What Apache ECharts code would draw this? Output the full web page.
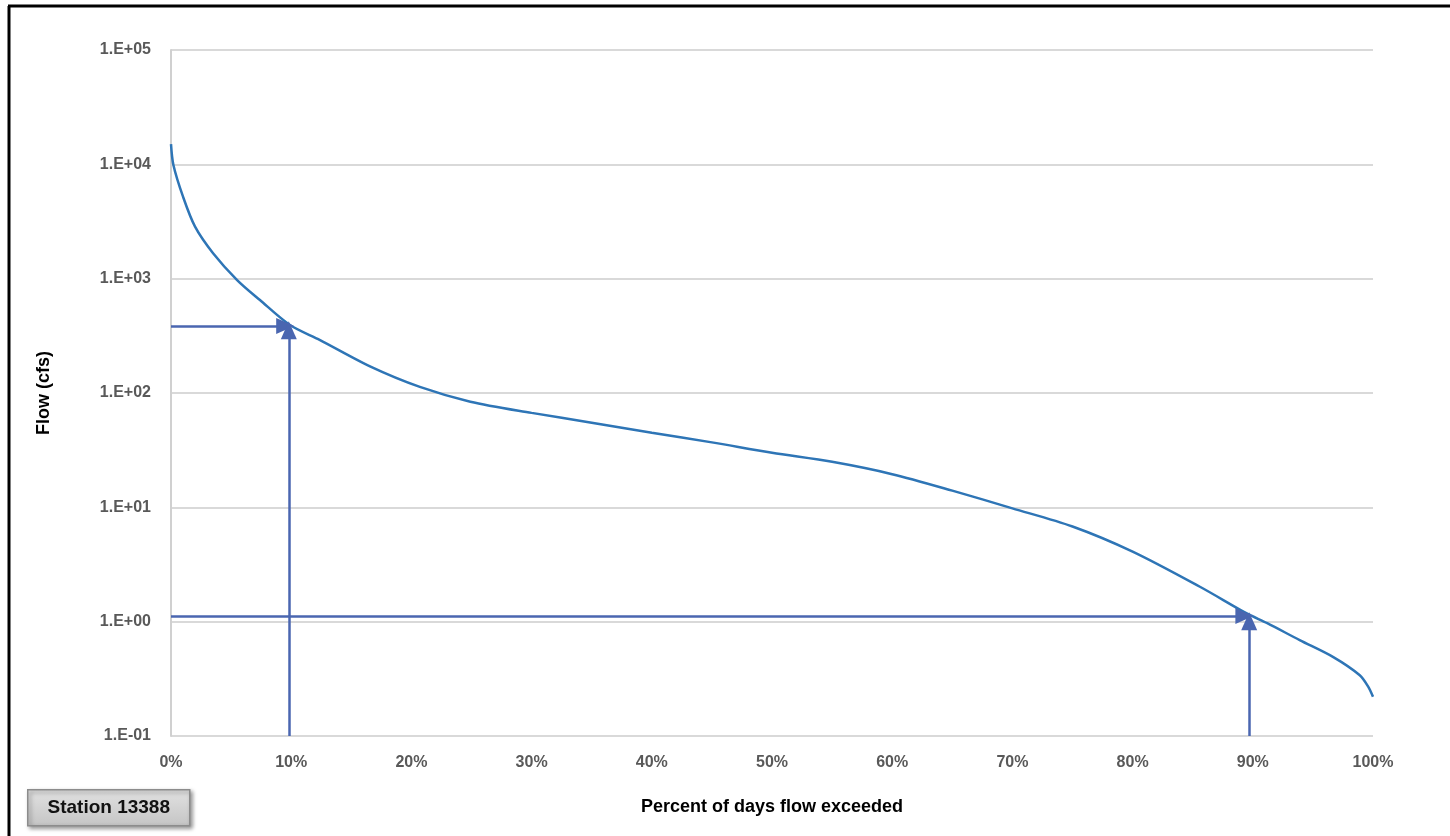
<!DOCTYPE html>
<html><head><meta charset="utf-8">
<script src="https://cdn.jsdelivr.net/npm/echarts@6/dist/echarts.min.js"></script>
<style>html,body{margin:0;padding:0;background:#fff}#c{width:1450px;height:836px}</style>
</head><body><div id="c"></div>
<script>
// Percent of days flow exceeded (x) and flow in cfs (y)
const pctExceeded = [0, 0.2, 1.0, 2.0, 3.5, 5.5, 7.4, 9.9, 12.4, 16.6, 20.7, 24.9, 30, 35, 40, 45, 50, 55, 60, 65, 70, 75, 80, 85.6, 89.5, 91.2, 93.9, 96.7, 98.9, 99.6, 100];
const flowCfs    = [15000, 9860, 5210, 2850, 1670, 973, 650, 393, 290, 170, 113, 84, 67, 55, 45, 37, 30, 25, 19.5, 14, 9.8, 6.8, 4.1, 2.02, 1.18, 0.97, 0.69, 0.49, 0.34, 0.27, 0.22];
const yTicks = [0.1, 1, 10, 100, 1000, 10000, 100000];
// Reading arrows: [percent, flow]
const arrow10 = [9.8, 385];
const arrow90 = [89.7, 1.12];
const stationLabel = 'Station 13388';

const chart = echarts.init(document.getElementById('c'));
const sci = v => { const e = Math.round(Math.log10(v)); return '1.E' + (e < 0 ? '-' : '+') + String(Math.abs(e)).padStart(2, '0'); };
const arrowColor = '#4a66b0';
chart.setOption({
  animation: false,
  grid: {left: 171, right: 77, top: 50, bottom: 100},
  xAxis: {
    type: 'value', min: 0, max: 100, interval: 10,
    name: 'Percent of days flow exceeded', nameLocation: 'middle', nameGap: 62,
    nameTextStyle: {fontFamily: 'Liberation Sans', fontWeight: 'bold', fontSize: 18, color: '#000'},
    axisLine: {show: false}, axisTick: {show: false}, splitLine: {show: false},
    axisLabel: {formatter: '{value}%', margin: 19, fontFamily: 'Liberation Sans', fontWeight: 'bold', fontSize: 16, color: '#595959'}
  },
  yAxis: {
    type: 'log', logBase: 10, min: yTicks[0], max: yTicks[yTicks.length - 1],
    name: 'Flow (cfs)', nameLocation: 'middle', nameGap: 118, nameRotate: 90,
    nameTextStyle: {fontFamily: 'Liberation Sans', fontWeight: 'bold', fontSize: 18, color: '#000'},
    axisLine: {show: true, lineStyle: {color: '#d0d0d0', width: 2}}, axisTick: {show: false},
    splitLine: {show: true, lineStyle: {color: '#d9d9d9', width: 2}},
    axisLabel: {formatter: sci, margin: 20, fontFamily: 'Liberation Sans', fontWeight: 'bold', fontSize: 16, color: '#595959'}
  },
  series: [
    {
      type: 'line', data: pctExceeded.map((p, i) => [p, flowCfs[i]]),
      showSymbol: false, smooth: 0.3, lineStyle: {color: '#2e75b6', width: 2.5}, z: 3
    },
    {
      type: 'line', data: [], silent: true,
      markLine: {
        silent: true, symbol: ['none', 'triangle'], symbolSize: [16, 18], animation: false,
        label: {show: false}, lineStyle: {color: arrowColor, width: 2.5, type: 'solid'},
        data: [
          [{coord: [0, arrow10[1]]}, {coord: [arrow10[0] - 0.3, arrow10[1]]}],
          [{coord: [arrow10[0], 0.1]}, {coord: [arrow10[0], arrow10[1] * 0.92]}],
          [{coord: [0, arrow90[1]]}, {coord: [arrow90[0] - 0.4, arrow90[1]]}],
          [{coord: [arrow90[0], 0.1]}, {coord: [arrow90[0], arrow90[1] * 0.9]}]
        ]
      }, z: 4
    }
  ],
  graphic: [
    {type: 'line', shape: {x1: 8, y1: 6, x2: 1450, y2: 6}, style: {stroke: '#000', lineWidth: 3}},
    {type: 'line', shape: {x1: 9, y1: 6, x2: 9, y2: 836}, style: {stroke: '#000', lineWidth: 3}},
    {type: 'group', left: 27, top: 789, children: [
      {type: 'rect', shape: {x: 0, y: 0, width: 162, height: 36},
        style: {fill: new echarts.graphic.LinearGradient(0, 0, 0, 1, [{offset: 0, color: '#e2e2e2'}, {offset: 1, color: '#c4c4c4'}]),
          stroke: '#8c8c8c', lineWidth: 1.5, shadowBlur: 4, shadowOffsetX: 2, shadowOffsetY: 2, shadowColor: 'rgba(0,0,0,0.4)'}},
      {type: 'text', x: 81, y: 18, style: {text: stationLabel, align: 'center', verticalAlign: 'middle',
        font: 'bold 19px "Liberation Sans"', fill: '#111'}}
    ]}
  ]
});
</script></body></html>
